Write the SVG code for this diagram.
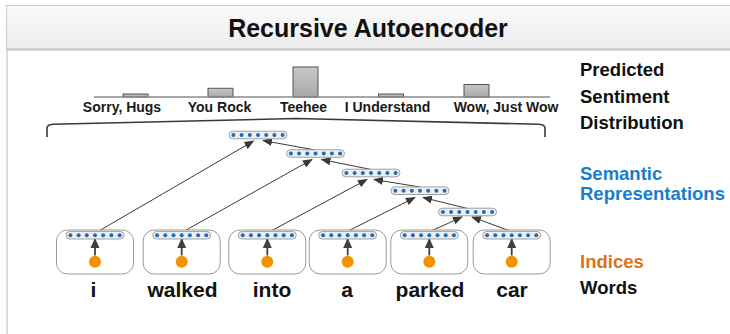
<svg xmlns="http://www.w3.org/2000/svg" width="730" height="334" viewBox="0 0 730 334">
<defs>
  <linearGradient id="tb" x1="0" y1="0" x2="0" y2="1">
    <stop offset="0" stop-color="#fbfbfb"/>
    <stop offset="1" stop-color="#ececec"/>
  </linearGradient>
  <linearGradient id="bar" x1="0" y1="0" x2="0" y2="1">
    <stop offset="0" stop-color="#c8c8c8"/>
    <stop offset="1" stop-color="#a8a8a8"/>
  </linearGradient>
  <marker id="ah" markerUnits="userSpaceOnUse" markerWidth="10" markerHeight="10" viewBox="0 0 10 10" refX="9" refY="5" orient="auto">
    <path d="M0,1 L10,5 L0,9 Z" fill="#3a3a3a"/>
  </marker>
  <marker id="ah2" markerUnits="userSpaceOnUse" markerWidth="10" markerHeight="10" viewBox="0 0 10 10" refX="9" refY="5" orient="auto">
    <path d="M0,0.5 L10,5 L0,9.5 Z" fill="#404040"/>
  </marker>
  <g id="vec">
    <rect x="-29" y="-3.8" width="58" height="7.6" rx="3.8" fill="#eeeeee" stroke="#8c8c8c" stroke-width="0.8"/>
    <g fill="#1f6db8">
      <circle cx="-24.6" cy="0" r="2"/>
      <circle cx="-16.4" cy="0" r="2"/>
      <circle cx="-8.2" cy="0" r="2"/>
      <circle cx="0" cy="0" r="2"/>
      <circle cx="8.2" cy="0" r="2"/>
      <circle cx="16.4" cy="0" r="2"/>
      <circle cx="24.6" cy="0" r="2"/>
    </g>
  </g>
  <g id="wordbox">
    <rect x="-38.5" y="0" width="77" height="44" rx="11" fill="#ffffff" stroke="#9a9a9a" stroke-width="1"/>
    <line x1="0" y1="25.5" x2="0" y2="9" stroke="#404040" stroke-width="1.8" marker-end="url(#ah2)"/>
    <circle cx="0" cy="31.7" r="6" fill="#f39200"/>
    <use href="#vec" x="0" y="5.2"/>
  </g>
</defs>
<style>
  .lbl { font-family: "Liberation Sans", Arial, sans-serif; font-weight: bold; font-size: 14px; fill: #1a1a1a; text-anchor: middle; }
  .word { font-family: "Liberation Sans", Arial, sans-serif; font-weight: bold; font-size: 21px; fill: #111111; text-anchor: middle; }
  .side { font-family: "Liberation Sans", Arial, sans-serif; font-weight: bold; font-size: 18.5px; }
  .edge { stroke: #3a3a3a; stroke-width: 1; fill: none; marker-end: url(#ah); }
</style>
<rect x="0" y="0" width="730" height="334" fill="#ffffff"/>
<!-- frame -->
<g id="frame">
  <line x1="7" y1="50" x2="7" y2="334" stroke="#dddddd" stroke-width="2"/>
  <rect x="6.5" y="5.5" width="730" height="44" fill="url(#tb)" stroke="#cfcfcf" stroke-width="1.2"/>
  <line x1="6" y1="49.5" x2="730" y2="49.5" stroke="#c4c4c4" stroke-width="2"/>
  <text x="368" y="37" font-family="'Liberation Sans', Arial, sans-serif" font-weight="bold" font-size="25" fill="#111111" text-anchor="middle">Recursive Autoencoder</text>
</g>
<!-- histogram -->
<g id="histogram">
  <rect x="123" y="94" width="25" height="3" fill="url(#bar)" stroke="#555555" stroke-width="1"/>
  <rect x="208" y="88.3" width="25" height="8.7" fill="url(#bar)" stroke="#555555" stroke-width="1"/>
  <rect x="293" y="67" width="25" height="30" fill="url(#bar)" stroke="#555555" stroke-width="1"/>
  <rect x="378.5" y="94" width="25" height="3" fill="url(#bar)" stroke="#555555" stroke-width="1"/>
  <rect x="464" y="84.5" width="25" height="12.5" fill="url(#bar)" stroke="#555555" stroke-width="1"/>
  <line x1="94" y1="97" x2="550" y2="97" stroke="#8a8a8a" stroke-width="1.5"/>
  <text class="lbl" x="122" y="112">Sorry, Hugs</text>
  <text class="lbl" x="219.5" y="112">You Rock</text>
  <text class="lbl" x="303.5" y="112">Teehee</text>
  <text class="lbl" x="387.5" y="112">I Understand</text>
  <text class="lbl" x="506" y="112">Wow, Just Wow</text>
  <path d="M47,137 V128.5 Q47,124.5 53,124.3 L296,118.5 L539,124.3 Q545,124.5 545,128.5 V137" fill="none" stroke="#3a3a3a" stroke-width="1.6"/>
</g>
<!-- connectors -->
<g id="connectors">
  <line class="edge" x1="98" y1="231.5" x2="253.5" y2="141"/>
  <line class="edge" x1="315" y1="150" x2="263" y2="140.5"/>
  <line class="edge" x1="183.5" y1="231.5" x2="312" y2="159.5"/>
  <line class="edge" x1="371" y1="169.5" x2="321.5" y2="159.5"/>
  <line class="edge" x1="270" y1="231.5" x2="367" y2="179.5"/>
  <line class="edge" x1="420" y1="187" x2="374" y2="179.5"/>
  <line class="edge" x1="347" y1="231.5" x2="415" y2="197.5"/>
  <line class="edge" x1="467.5" y1="208.5" x2="423" y2="197.5"/>
  <line class="edge" x1="430" y1="231.5" x2="462" y2="217"/>
  <line class="edge" x1="511.5" y1="231.5" x2="472" y2="217"/>
</g>
<!-- semantic nodes -->
<g id="n1"><use href="#vec" x="258" y="135"/></g>
<g id="n2"><use href="#vec" x="315.5" y="153.5"/></g>
<g id="n3"><use href="#vec" x="371" y="173"/></g>
<g id="n4"><use href="#vec" x="420" y="190.7"/></g>
<g id="n5"><use href="#vec" x="467.5" y="212"/></g>
<!-- word nodes -->
<g id="w-i"><use href="#wordbox" x="95" y="230"/><text class="word" x="93.5" y="297">i</text></g>
<g id="w-walked"><use href="#wordbox" x="181.7" y="230"/><text class="word" x="182.5" y="297">walked</text></g>
<g id="w-into"><use href="#wordbox" x="267.3" y="230"/><text class="word" x="272" y="297">into</text></g>
<g id="w-a"><use href="#wordbox" x="347.7" y="230"/><text class="word" x="347" y="297">a</text></g>
<g id="w-parked"><use href="#wordbox" x="429.3" y="230"/><text class="word" x="430" y="297">parked</text></g>
<g id="w-car"><use href="#wordbox" x="511.7" y="230"/><text class="word" x="512" y="297">car</text></g>
<!-- legend -->
<g id="legend">
  <text class="side" x="580" y="76" fill="#111111">Predicted</text>
  <text class="side" x="580" y="102.5" fill="#111111">Sentiment</text>
  <text class="side" x="580" y="129" fill="#111111">Distribution</text>
  <text class="side" x="580" y="180" fill="#1a7ccc">Semantic</text>
  <text class="side" x="580" y="200" fill="#1a7ccc">Representations</text>
  <text class="side" x="580" y="267.5" fill="#d9751c">Indices</text>
  <text class="side" x="580" y="293.5" fill="#111111">Words</text>
</g>
</svg>
